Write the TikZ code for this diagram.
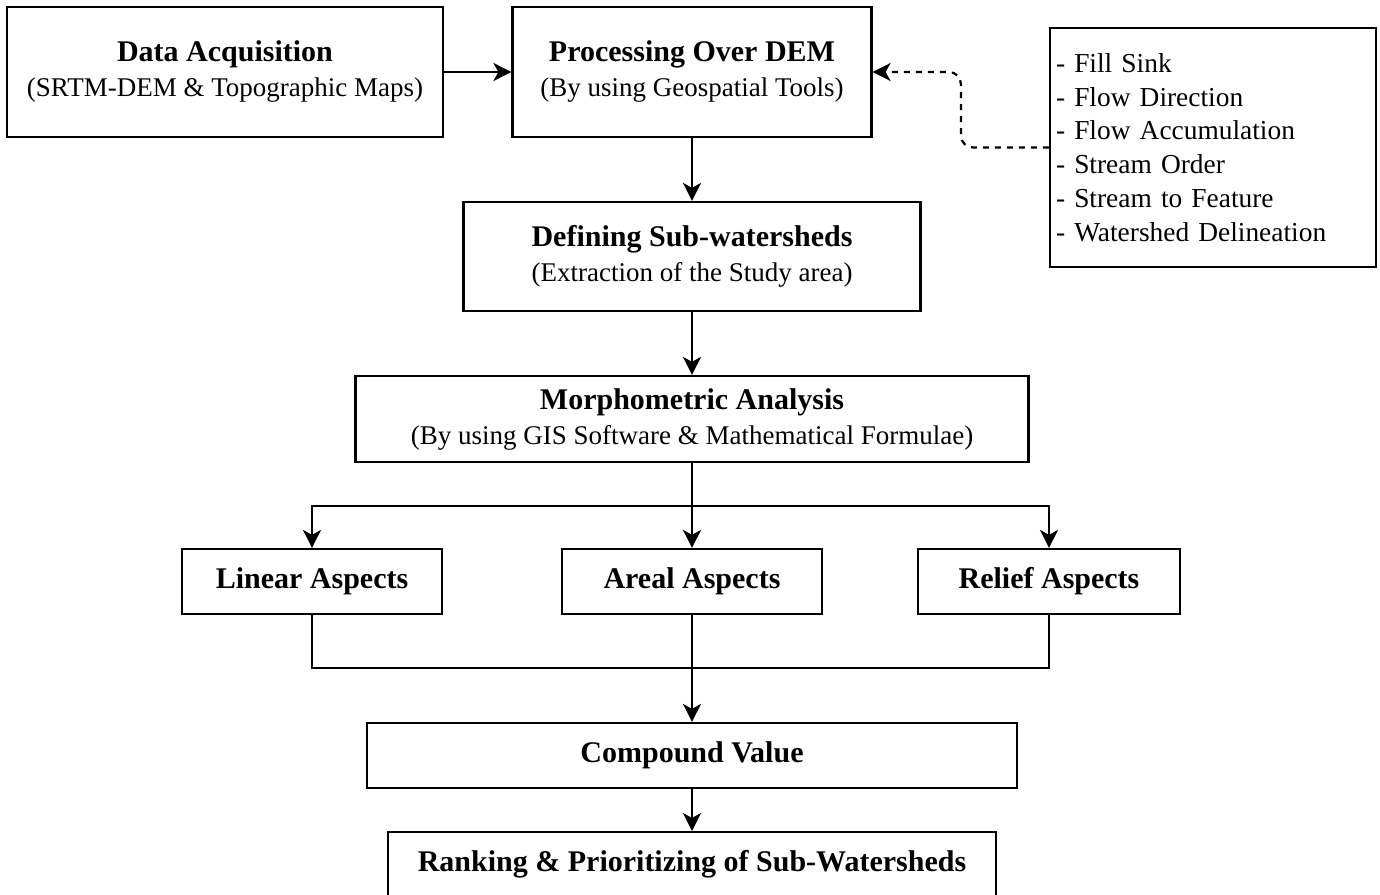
\documentclass[tikz,border=0pt]{standalone}
\usepackage{fontspec}
\setmainfont{Liberation Serif}
\usepackage{tikz}
\usetikzlibrary{arrows.meta,positioning,calc}

\newcommand{\boxhead}[1]{{\fontsize{15}{17.5}\selectfont\bfseries #1}}
\newcommand{\boxsub}[1]{{\fontsize{13.5}{17.5}\selectfont #1}}

\tikzset{
  stagebox/.style={draw, line width=1.1pt, inner sep=0pt, align=center,
    font=\fontsize{13.5}{17.5}\selectfont},
  listbox/.style={draw, line width=1.1pt, inner sep=2pt, align=left,
    font=\fontsize{13.7}{16.9}\selectfont},
  flow/.style={line width=1.1pt, -{Stealth[length=9pt,width=9pt,inset=2.5pt]}},
  link/.style={line width=1.1pt}
}

\begin{document}
\begin{tikzpicture}[x=0.5pt,y=-0.5pt]
    \clip (0,0) rectangle (1380,894);
    % top row
    \node[stagebox, minimum width=218pt, minimum height=65pt] (data) at (225,72)
      {\boxhead{Data Acquisition}\\\boxsub{(SRTM-DEM \& Topographic Maps)}};
    \node[stagebox, minimum width=179.5pt, minimum height=65pt] (proc) at (692,72)
      {\boxhead{Processing Over DEM}\\\boxsub{(By using Geospatial Tools)}};
    \node[listbox, minimum width=163pt, minimum height=119.5pt, text width=157pt] (tools) at (1213,147.5)
      {- Fill Sink\\- Flow Direction\\- Flow Accumulation\\- Stream Order\\- Stream to Feature\\- Watershed Delineation};
    % middle column
    \node[stagebox, minimum width=228.5pt, minimum height=54.5pt] (subws) at (692,256.5)
      {\boxhead{Defining Sub-watersheds}\\\boxsub{(Extraction of the Study area)}};
    \node[stagebox, minimum width=336.5pt, minimum height=43pt] (morph) at (692,419)
      {\boxhead{Morphometric Analysis}\\\boxsub{(By using GIS Software \& Mathematical Formulae)}};
    % aspects
    \node[stagebox, minimum width=130pt, minimum height=32.5pt] (linear) at (312,581.5) {\boxhead{Linear Aspects}};
    \node[stagebox, minimum width=130pt, minimum height=32.5pt] (areal) at (692,581.5) {\boxhead{Areal Aspects}};
    \node[stagebox, minimum width=131pt, minimum height=32.5pt] (relief) at (1049,581.5) {\boxhead{Relief Aspects}};
    % result
    \node[stagebox, minimum width=325pt, minimum height=32.5pt] (compound) at (692,755.5) {\boxhead{Compound Value}};
    \node[stagebox, minimum width=304pt, minimum height=32.5pt, anchor=north] (rank) at (692,831)
      {\boxhead{Ranking \& Prioritizing of Sub-Watersheds}};

    \coordinate (split) at (692,506);
    \coordinate (join) at (692,668);

    \draw[flow] (data) -- (proc);
    % tools feed back into the DEM processing
    \draw[flow, dashed, rounded corners=6pt] (tools.west) -- ++(-88,0) |- (proc.east);
    \draw[flow] (proc) -- (subws);
    \draw[flow] (subws) -- (morph);
    \draw[link] (morph) -- (split);
    \draw[flow] (split) -| (linear.north);
    \draw[flow] (split) -- (areal);
    \draw[flow] (split) -| (relief.north);
    \draw[link] (linear.south) |- (join);
    \draw[link] (relief.south) |- (join);
    \draw[flow] (areal) -- (compound);
    \draw[flow] (compound) -- (rank);
\end{tikzpicture}
\end{document}
